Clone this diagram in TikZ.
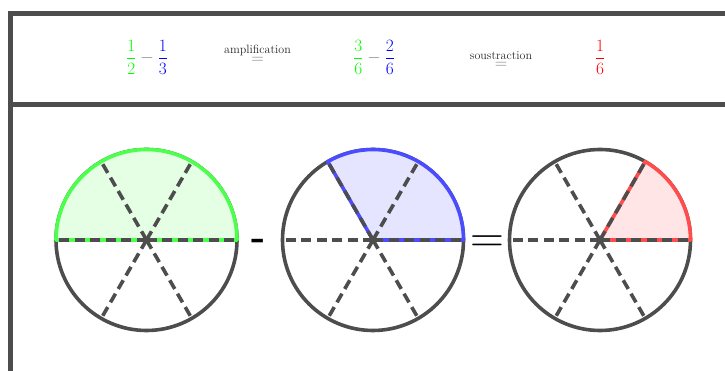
\documentclass[tikz,border=0pt]{standalone}
\usepackage{amsmath}
\definecolor{framegray}{RGB}{77,77,77}
\tikzset{
  frameline/.style={draw=framegray, line width=5pt, line join=miter},
  disc/.style={draw=framegray, line width=3.6pt},
  spoke/.style={draw=framegray, line width=3.6pt, dash pattern=on 10pt off 5.5pt},
  sector/.style={line width=3.6pt, line join=round},
  hdr/.style={inner sep=0pt, font=\fontsize{16}{19}\selectfont},
  lbl/.style={inner sep=0pt, font=\fontsize{12}{14}\selectfont, text=black!85},
  bigsign/.style={inner sep=0pt, anchor=base},
}
\begin{document}
\begin{tikzpicture}[x=1pt,y=1pt]
\useasboundingbox (0,0) rectangle (725,371);
\clip (0,0) rectangle (725,371);
% frame
\draw[frameline] (760,357) -- (10,357) -- (10,-20);
\draw[frameline] (10,266.5) -- (760,266.5);
% header
\node[hdr, anchor=base] (e1) at (147,308) {$\displaystyle \textcolor{green}{\frac{1}{2}}\mathbin{\textcolor{gray}{-}}\textcolor{blue}{\frac{1}{3}}$};
\node[lbl, anchor=base] (amp) at (257.5,317.7) {amplification};
\node[hdr, anchor=base, text=gray] (eqa) at (257.5,307.5) {$=$};
\node[hdr, anchor=base] (e2) at (374,308) {$\displaystyle \textcolor{green}{\frac{3}{6}}\mathbin{\textcolor{gray}{-}}\textcolor{blue}{\frac{2}{6}}$};
\node[lbl, anchor=base] (sou) at (501,311.7) {soustraction};
\node[hdr, anchor=base, text=gray] (eqs) at (501,302.5) {$=$};
\node[hdr, anchor=base] (e3) at (600,308) {$\displaystyle \textcolor{red}{\frac{1}{6}}$};
% circles
\coordinate (c1) at (146.5,131);
\coordinate (c2) at (373,131);
\coordinate (c3) at (600,131);
\draw[disc] (c1) circle[radius=90.5];
\draw[disc] (c2) circle[radius=90.5];
\draw[disc] (c3) circle[radius=90.5];
\filldraw[sector, fill=green!10, draw=green!70] (c1) -- ++(0:90.5) arc[start angle=0, end angle=180, radius=90.5] -- cycle;
\filldraw[sector, fill=blue!10, draw=blue!70] (c2) -- ++(0:90.5) arc[start angle=0, end angle=120, radius=90.5] -- cycle;
\filldraw[sector, fill=red!10, draw=red!70] (c3) -- ++(0:90.5) arc[start angle=0, end angle=60, radius=90.5] -- cycle;
\foreach \c in {c1,c2,c3}{
  \foreach \a in {0,60,...,300}{
    \draw[spoke] (\c) -- ++(\a:90.5);
  }
}
% operators between circles
\node[bigsign, font=\fontsize{38}{40}\selectfont\bfseries] (minus) at (259,121) {-};
\node[bigsign, font=\fontsize{47}{50}\selectfont] (equal) at (487.5,118.5) {=};
\end{tikzpicture}
\end{document}
